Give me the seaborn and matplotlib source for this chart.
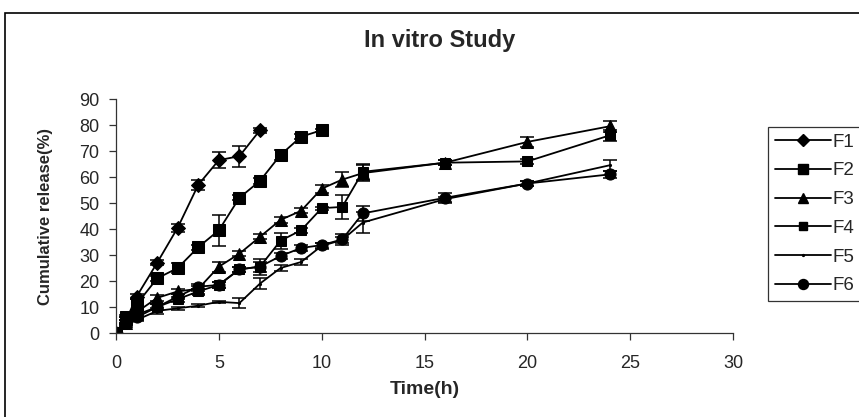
import numpy as np
import pandas as pd
import seaborn as sns
import matplotlib.pyplot as plt
from matplotlib.lines import Line2D
from matplotlib.patches import Rectangle

# Data
time_all = [0, 0.5, 1, 2, 3, 4, 5, 6, 7, 8, 9, 10, 11, 12, 16, 20, 24]
time_f1 = time_all[:9]
time_f2 = time_all[:12]

f1 = [0, 5, 14, 27, 40.5, 57, 66.5, 68, 78]
f1_sd = [0, 1, 1, 1, 1.5, 2, 3, 4, 1]
f2 = [0, 6, 11, 21, 25, 33, 39.5, 52, 58.5, 68.5, 75.5, 78]
f2_sd = [0, 1, 2, 1, 2, 1, 6, 1, 1, 2, 1, 0.5]
f3 = [0, 4, 8, 13.5, 16, 17, 25.5, 30.5, 37, 43.5, 47, 55.5, 59, 61.5, 65.5, 73.5, 79.5]
f3_sd = [0, 1, 1, 1, 1, 1, 2, 1, 1, 1, 1, 1.5, 3, 3, 1, 2, 2]
f4 = [0, 5, 7, 10, 13, 16, 18.5, 24.5, 25.5, 35.5, 39.5, 48, 48.5, 62, 65.5, 66, 76]
f4_sd = [0, 1, 1, 1, 1, 1, 1, 1, 3, 3, 1, 0.5, 4.5, 3, 1, 1, 2]
f5 = [0, 3, 5, 8.5, 9.5, 10.5, 12, 11.5, 19, 25, 27.3, 33.5, 35.8, 42.5, 51.5, 57.5, 64.5]
f5_sd = [0, 0.5, 0.5, 1, 0.5, 0.5, 0.5, 2, 2, 1, 1, 1, 1, 4, 1, 1, 2]
f6 = [0, 4, 6, 10, 14, 17.8, 18.5, 24.5, 25.5, 29.6, 32.7, 33.8, 36, 46, 52, 57.5, 61]
f6_sd = [0, 1, 1, 1, 1, 1, 1, 1, 2, 1, 1, 1, 2, 3, 2, 1, 1.5]

series = {
    "F1": (time_f1, f1, f1_sd, "D", 7),
    "F2": (time_f2, f2, f2_sd, "s", 8),
    "F3": (time_all, f3, f3_sd, "^", 8.5),
    "F4": (time_all, f4, f4_sd, "s", 6.5),
    "F5": (time_all, f5, f5_sd, ".", 3),
    "F6": (time_all, f6, f6_sd, "o", 8),
}

sns.set_style("white")
plt.rcParams["font.family"] = ["Liberation Sans", "DejaVu Sans"]

fig = plt.figure(figsize=(8.59, 4.17), dpi=100)
ax = fig.add_axes([116 / 859, 1 - 333 / 417, (733 - 116) / 859, (333 - 99) / 417])

handles = []
for name, (t, y, sd, mk, ms) in series.items():
    df = pd.DataFrame({"time": t, "release": y})
    sns.lineplot(data=df, x="time", y="release", ax=ax, color="black",
                 linewidth=1.3, marker=mk, markersize=ms,
                 markeredgecolor="black", markerfacecolor="black", legend=False)
    ax.errorbar(t, y, yerr=sd, fmt="none", ecolor="black",
                elinewidth=1.1, capsize=5, capthick=1.1)
    handles.append(Line2D([], [], color="black", linewidth=1.3, marker=mk,
                          markersize=ms * 0.9, label=name))

ax.set_xlim(0, 30)
ax.set_ylim(0, 90)
ax.set_xticks(range(0, 31, 5))
ax.set_yticks(range(0, 91, 10))
ax.tick_params(axis="both", which="both", direction="out", length=5,
               width=0.9, labelsize=13, color="#333333", bottom=True, left=True)
ax.tick_params(axis="x", pad=11)
ax.tick_params(axis="y", pad=7)
for side in ["top", "right"]:
    ax.spines[side].set_visible(False)
for side in ["left", "bottom"]:
    ax.spines[side].set_color("#333333")
    ax.spines[side].set_linewidth(0.9)

ax.set_xlabel("Time(h)", fontsize=14, fontweight="bold", va="center")
ax.xaxis.set_label_coords(0.5, (333 - 390) / 234)
ax.set_ylabel("Cumulative release(%)", fontsize=12, fontweight="bold", va="center")
ax.yaxis.set_label_coords((46 - 116) / 617, 0.5)
fig.text(440 / 859, 1 - 41 / 417, "In vitro Study", ha="center", va="center",
         fontsize=17, fontweight="bold")

leg = fig.legend(handles=handles, loc="upper left",
                 bbox_to_anchor=(768 / 859, 1 - 127 / 417), fontsize=13.5,
                 frameon=True, fancybox=False, edgecolor="black",
                 handlelength=3.0, labelspacing=0.62, borderpad=0.35,
                 handletextpad=0.1, borderaxespad=0)
leg.get_frame().set_linewidth(0.9)

# outer chart-area border
fig.patches.append(Rectangle((5 / 859, -0.05), 1.1, 1 - 13 / 417 + 0.05,
                             transform=fig.transFigure, fill=False,
                             edgecolor="black", linewidth=1.2, clip_on=False))

fig.savefig("out.png", dpi=100)
